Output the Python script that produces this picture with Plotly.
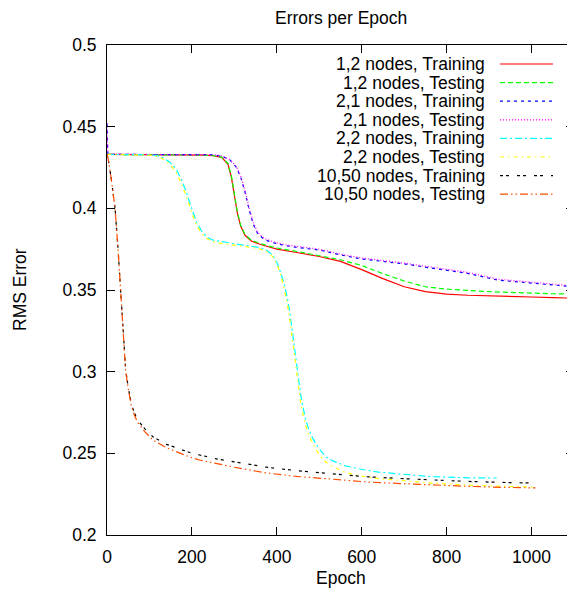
import plotly.graph_objects as go

# ---------------- data ----------------
red_x = [0, 50, 100, 150, 200, 230, 250, 270, 285, 293, 300, 307, 315, 325, 340, 360, 380, 400,
         450, 500, 550, 600, 650, 700, 750, 800, 850, 900, 950, 1000, 1050, 1100]
train_12 = [0.433, 0.433, 0.433, 0.433, 0.4329, 0.4326, 0.4322, 0.4312, 0.427, 0.419, 0.408, 0.397,
            0.389, 0.3835, 0.380, 0.378, 0.3765, 0.375, 0.3728, 0.3705, 0.3675, 0.3625, 0.357, 0.352,
            0.349, 0.3475, 0.3468, 0.3463, 0.346, 0.3457, 0.3453, 0.345]
test_12 = [0.433, 0.433, 0.433, 0.433, 0.4329, 0.4326, 0.4323, 0.4314, 0.4275, 0.420, 0.409, 0.398,
           0.3895, 0.384, 0.3805, 0.3785, 0.377, 0.3757, 0.3735, 0.371, 0.3685, 0.365, 0.360, 0.3555,
           0.352, 0.3505, 0.3496, 0.349, 0.3485, 0.348, 0.3477, 0.3475]

epochs_21 = [0, 2, 50, 100, 150, 200, 250, 270, 290, 305, 315, 325, 335, 345, 355, 370, 390, 420,
             450, 500, 550, 600, 650, 700, 765, 845, 922, 1000, 1050, 1100]
train_21 = [0.452, 0.433, 0.433, 0.433, 0.433, 0.433, 0.4328, 0.432, 0.4295, 0.425, 0.419, 0.410,
            0.399, 0.390, 0.3845, 0.381, 0.379, 0.3772, 0.376, 0.3745, 0.3715, 0.369, 0.3675, 0.366,
            0.3634, 0.3604, 0.356, 0.3543, 0.353, 0.352]
test_21 = [0.452, 0.433, 0.433, 0.433, 0.433, 0.433, 0.4329, 0.4322, 0.4298, 0.4255, 0.4198, 0.411,
           0.400, 0.391, 0.3853, 0.3817, 0.3796, 0.3777, 0.3766, 0.375, 0.372, 0.3696, 0.368, 0.3665,
           0.364, 0.361, 0.3566, 0.3548, 0.3535, 0.3525]

epochs_22_train = [0, 50, 100, 115, 125, 135, 145, 155, 164, 177, 188, 200, 211, 223, 235, 250, 282,
                   320, 359, 375, 390, 400, 410, 418, 425, 432, 440, 448, 455, 461, 468, 476, 485,
                   493, 505, 516, 531, 560, 594, 640, 700, 765, 850, 918]
train_22 = [0.433, 0.433, 0.4328, 0.4324, 0.4317, 0.4305, 0.4288, 0.4265, 0.4235, 0.4165, 0.409,
            0.3995, 0.3915, 0.386, 0.3825, 0.3805, 0.379, 0.3775, 0.376, 0.3745, 0.3715, 0.367,
            0.360, 0.353, 0.345, 0.334, 0.318, 0.301, 0.288, 0.279, 0.2705, 0.2643, 0.259, 0.2555,
            0.251, 0.2477, 0.2455, 0.2425, 0.2404, 0.2385, 0.237, 0.2357, 0.235, 0.2349]
epochs_22_test = [0, 50, 100, 115, 125, 135, 145, 155, 164, 177, 188, 200, 211, 223, 235, 250, 282,
                  320, 359, 375, 390, 400, 410, 418, 425, 432, 440, 448, 455, 461, 468, 476, 485,
                  493, 505, 516, 531, 560, 594, 640, 700, 765, 850, 918, 1000, 1010]
test_22 = [0.433, 0.433, 0.4326, 0.432, 0.4311, 0.4296, 0.4275, 0.4248, 0.4215, 0.414, 0.4065,
           0.397, 0.3895, 0.3845, 0.3815, 0.3795, 0.378, 0.3768, 0.3752, 0.3737, 0.3705, 0.366,
           0.3585, 0.350, 0.341, 0.329, 0.312, 0.295, 0.283, 0.2745, 0.267, 0.2605, 0.2555, 0.252,
           0.2475, 0.2445, 0.242, 0.2385, 0.2362, 0.2345, 0.2333, 0.2318, 0.2305, 0.2298, 0.2294,
           0.2293]

epochs_1050 = [0, 3, 10, 19, 26, 32, 38, 44, 51, 58, 65, 73, 90, 108, 140, 171, 195, 218, 260, 300,
               375, 450, 530, 610, 690, 765, 850, 930, 1009]
train_1050 = [0.433, 0.430, 0.418, 0.400, 0.375, 0.350, 0.325, 0.301, 0.2890, 0.2795, 0.2745,
              0.2700, 0.2648, 0.2602, 0.2555, 0.2525, 0.2505, 0.249, 0.2465, 0.2448, 0.2415, 0.2393,
              0.2375, 0.2357, 0.2346, 0.2337, 0.2328, 0.2322, 0.2318]
test_1050 = [0.433, 0.430, 0.418, 0.400, 0.375, 0.350, 0.325, 0.300, 0.288, 0.2784, 0.273, 0.2686,
             0.263, 0.2582, 0.2535, 0.250, 0.2477, 0.2459, 0.2435, 0.2415, 0.238, 0.2358, 0.2342,
             0.2325, 0.2315, 0.2306, 0.2298, 0.2292, 0.2288]

series_names = ["1,2 nodes, Training", "1,2 nodes, Testing", "2,1 nodes, Training",
                "2,1 nodes, Testing", "2,2 nodes, Training", "2,2 nodes, Testing",
                "10,50 nodes, Training", "10,50 nodes, Testing"]
series_x = [red_x, red_x, epochs_21, epochs_21, epochs_22_train, epochs_22_test,
            epochs_1050, epochs_1050]
series_y = [train_12, test_12, train_21, test_21, train_22, test_22, train_1050, test_1050]

x_ticks = [0, 200, 400, 600, 800, 1000]
y_ticks = [0.2, 0.25, 0.3, 0.35, 0.4, 0.45, 0.5]
y_tick_labels = ["0.2", "0.25", "0.3", "0.35", "0.4", "0.45", "0.5"]

# ---------------- styles ----------------
colors = ["#ff0000", "#00ff00", "#0000ff", "#ff00ff", "#00ffff", "#ffff00", "#000000", "#ff4d00"]
dashes = ["solid", "5px,3px", "3px,4px", "1px,2px", "7px,3px,2px,3px",
          "4px,4px,1.5px,4px", "3px,3px,3px,8px", "8px,3px,1.5px,3px,1.5px,3px"]

FONT = "Liberation Sans, Arial, Helvetica, sans-serif"
FS = 17.5

# the page body has an 8px margin: work in screen pixels, convert to figure pixels
OFF = 8
SCREEN_W, SCREEN_H = 575, 589
W, H = SCREEN_W - OFF, SCREEN_H - OFF
PL, PR, PT, PB = 107, 574, 45, 535          # plot area on screen
L, R, T, B = PL - OFF, W - (PR - OFF), PT - OFF, H - (PB - OFF)
pw, ph = W - L - R, H - T - B


def px_x(sx):
    return (sx - PL) / (PR - PL)


def px_y(sy):
    return (PB - sy) / (PB - PT)


fig = go.Figure()
for name, xs, ys, c, d in zip(series_names, series_x, series_y, colors, dashes):
    fig.add_trace(go.Scatter(x=xs, y=ys, mode="lines", name=name,
                             line=dict(color=c, width=1.2, dash=d), showlegend=False))

# manual legend (text left, sample line right, like gnuplot)
row0, row_step = 64, 18.6
text_right_px, line_x0_px, line_x1_px = 487, 500, 553
for i, (name, c, d) in enumerate(zip(series_names, colors, dashes)):
    yp = px_y(row0 + i * row_step)
    fig.add_annotation(x=px_x(text_right_px), y=yp, xref="paper", yref="paper",
                       text=name, showarrow=False, xanchor="right", yanchor="middle",
                       font=dict(family=FONT, size=FS, color="black"))
    fig.add_shape(type="line", xref="paper", yref="paper",
                  x0=px_x(line_x0_px), x1=px_x(line_x1_px), y0=yp, y1=yp,
                  line=dict(color=c, width=1.2, dash=d))

# axis titles
fig.add_annotation(x=0.5, y=px_y(578), xref="paper", yref="paper", text="Epoch",
                   showarrow=False, xanchor="center", yanchor="middle",
                   font=dict(family=FONT, size=FS, color="black"))
fig.add_annotation(x=px_x(20), y=px_y(290), xref="paper", yref="paper",
                   text="RMS Error", textangle=-90, showarrow=False, xanchor="center",
                   yanchor="middle", font=dict(family=FONT, size=FS, color="black"))
fig.add_annotation(x=0.5, y=px_y(18), xref="paper", yref="paper", text="Errors per Epoch",
                   showarrow=False, xanchor="center", yanchor="middle",
                   font=dict(family=FONT, size=FS, color="black"))

axis_common = dict(showgrid=False, zeroline=False, showline=True, linecolor="black", linewidth=1,
                   mirror="ticks", ticks="inside", ticklen=8, tickwidth=1, tickcolor="black",
                   automargin=False,
                   tickfont=dict(family=FONT, size=FS, color="black"))

fig.update_layout(
    width=W, height=H,
    margin=dict(l=L, r=R, t=T, b=B, pad=0),
    paper_bgcolor="white", plot_bgcolor="white",
    xaxis=dict(range=[0, 1100], tickvals=x_ticks, ticklabelstandoff=6, **axis_common),
    yaxis=dict(range=[0.2, 0.5], tickvals=y_ticks, ticktext=y_tick_labels,
               ticklabelstandoff=6, **axis_common),
)

fig.write_html("out.html")
